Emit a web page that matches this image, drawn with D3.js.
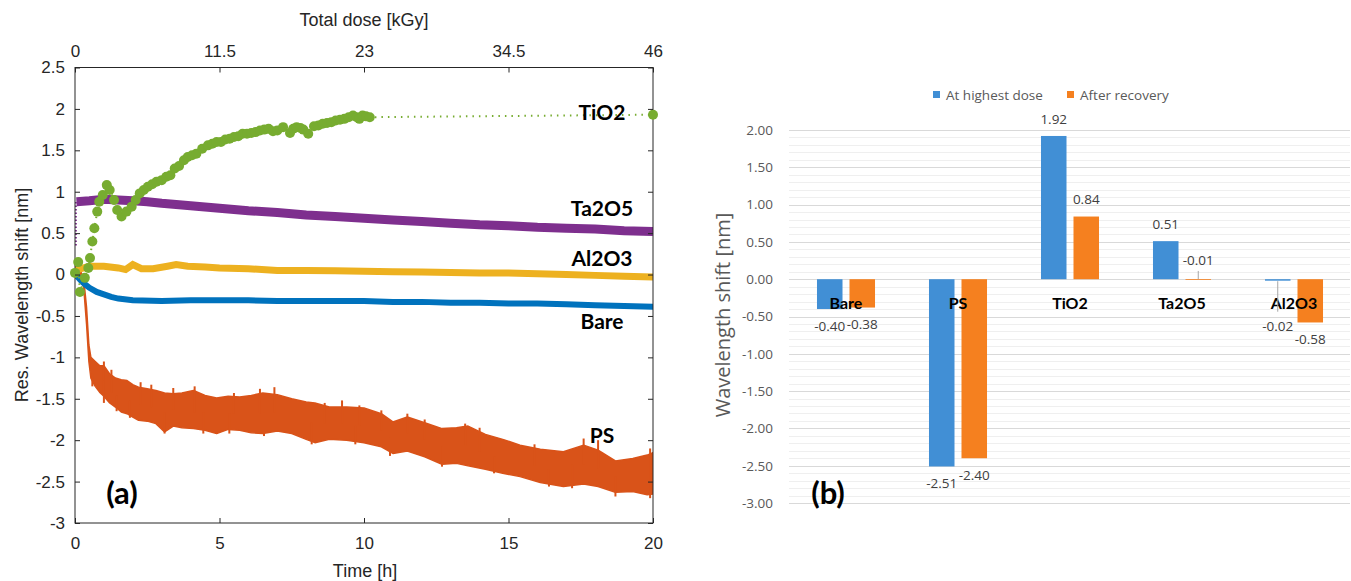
<!DOCTYPE html>
<html><head><meta charset="utf-8">
<script src="https://cdn.jsdelivr.net/npm/d3@7"></script>
<style>body{margin:0;background:#fff} svg{display:block}</style>
</head><body><svg id="c" width="1351" height="581"></svg>
<script>
// ---------- Panel (a) data ----------
const hourTicks = [0, 5, 10, 15, 20];
const doseTicks = [0, 11.5, 23, 34.5, 46];
const shiftTicks = [-3, -2.5, -2, -1.5, -1, -0.5, 0, 0.5, 1, 1.5, 2, 2.5];

const tio2T = [0,0.11,0.17,0.34,0.46,0.52,0.6,0.67,0.77,0.84,0.96,1.1,1.2,1.35,1.46,1.61,1.78,1.96,2.1,2.24,2.38,2.52,2.67,2.82,3.0,3.16,3.3,3.45,3.6,3.77,3.9,4.05,4.2,4.4,4.6,4.75,4.9,5.05,5.2,5.35,5.5,5.65,5.8,5.95,6.1,6.25,6.4,6.55,6.7,6.85,7.0,7.2,7.44,7.55,7.67,7.8,7.9,8.07,8.27,8.42,8.57,8.72,8.87,9.02,9.17,9.32,9.47,9.62,9.75,9.84,9.95,10.07,10.2,20];
const tio2V = [0.02,0.15,-0.21,-0.04,0.08,0.2,0.4,0.56,0.76,0.88,0.96,1.08,1.02,0.9,0.78,0.7,0.76,0.82,0.9,0.98,1.02,1.06,1.09,1.12,1.14,1.18,1.2,1.28,1.31,1.38,1.42,1.44,1.46,1.52,1.56,1.58,1.6,1.6,1.63,1.64,1.66,1.67,1.7,1.7,1.71,1.72,1.74,1.75,1.76,1.73,1.74,1.78,1.71,1.76,1.78,1.77,1.75,1.7,1.79,1.8,1.82,1.83,1.84,1.86,1.87,1.88,1.9,1.92,1.9,1.88,1.92,1.91,1.9,1.93];

const ta2o5T = [0.05,0.5,1,1.5,2,2.5,3,4,5,6,7,8,9,10,11,12,13,14,15,16,17,18,19,20];
const ta2o5V = [0.88,0.89,0.91,0.9,0.89,0.88,0.86,0.83,0.8,0.77,0.75,0.72,0.7,0.68,0.66,0.64,0.62,0.6,0.59,0.57,0.56,0.55,0.53,0.52];

const al2o3T = [0,0.3,0.5,1,1.5,1.75,2,2.3,2.7,3.2,3.5,3.9,4.5,5,6,7,8,9,10,11,12,13,14,15,16,17,18,19,20];
const al2o3V = [0.05,0.08,0.1,0.1,0.08,0.06,0.12,0.07,0.07,0.1,0.12,0.1,0.09,0.08,0.07,0.05,0.05,0.045,0.04,0.035,0.03,0.025,0.02,0.02,0.01,0,-0.01,-0.02,-0.03];

const bareT = [0,0.1,0.2,0.35,0.5,0.75,1,1.25,1.5,2,3,4,5,6,7,8,9,10,11,12,13,14,15,16,17,18,19,20];
const bareV = [0.02,-0.03,-0.07,-0.12,-0.16,-0.21,-0.24,-0.27,-0.29,-0.31,-0.32,-0.31,-0.31,-0.31,-0.32,-0.32,-0.32,-0.32,-0.33,-0.33,-0.34,-0.34,-0.35,-0.35,-0.36,-0.37,-0.38,-0.39];

const psT  = [0,0.15,0.3,0.4,0.48,0.55,0.7,0.85,1.0,1.2,1.4,1.6,1.8,2.0,2.2,2.5,2.8,3.1,3.4,3.7,4.1,4.5,4.9,5.3,5.7,6.1,6.5,7.0,7.5,8.0,8.3,8.8,9.4,10.0,10.6,11.0,11.5,12.1,12.7,13.2,13.6,14.2,14.8,15.4,16.1,16.9,17.6,18.1,18.7,19.3,19.8,20];
const psHi = [0.1,0.08,-0.05,-0.4,-0.85,-1.0,-1.05,-1.1,-1.1,-1.2,-1.25,-1.27,-1.28,-1.33,-1.36,-1.38,-1.4,-1.43,-1.44,-1.43,-1.4,-1.46,-1.49,-1.47,-1.48,-1.46,-1.43,-1.45,-1.5,-1.54,-1.55,-1.6,-1.6,-1.61,-1.68,-1.78,-1.72,-1.79,-1.86,-1.85,-1.83,-1.93,-1.99,-2.06,-2.11,-2.14,-2.06,-2.12,-2.25,-2.22,-2.18,-2.15];
const psLo = [-0.02,-0.05,-0.15,-0.6,-1.05,-1.25,-1.35,-1.42,-1.47,-1.55,-1.6,-1.66,-1.68,-1.72,-1.76,-1.77,-1.8,-1.9,-1.83,-1.85,-1.86,-1.88,-1.92,-1.87,-1.88,-1.91,-1.92,-1.89,-1.92,-1.99,-2.03,-1.99,-2.0,-2.03,-2.08,-2.16,-2.13,-2.2,-2.29,-2.28,-2.31,-2.35,-2.4,-2.44,-2.51,-2.56,-2.53,-2.56,-2.63,-2.62,-2.66,-2.65];
// individual noise spikes: [time, tip value]
const psSpikesUp = [[1.0,-1.05],[1.26,-1.15],[2.27,-1.3],[2.64,-1.33],[3.4,-1.37],[4.14,-1.35],[5.5,-1.43],[6.4,-1.38],[6.9,-1.36],[8.64,-1.55],[9.24,-1.52],[9.84,-1.58],[10.6,-1.64],[11.5,-1.68],[12.1,-1.75],[13.5,-1.8],[14.0,-1.85],[15.9,-2.05],[17.6,-1.98],[18.1,-2.0],[19.9,-2.1]];
const psSpikesDown = [[0.6,-1.35],[1.0,-1.55],[1.44,-1.65],[1.9,-1.73],[3.1,-1.92],[4.44,-1.92],[5.34,-1.92],[6.54,-1.95],[8.19,-2.05],[9.7,-2.05],[10.9,-2.19],[12.7,-2.32],[14.5,-2.4],[16.4,-2.56],[17.2,-2.58],[18.7,-2.68],[19.9,-2.7]];

// ---------- Panel (b) data ----------
const categories = ["Bare", "PS", "TiO2", "Ta2O5", "Al2O3"];
const seriesNames = ["At highest dose", "After recovery"];
const highestDose = [-0.40, -2.51, 1.92, 0.51, -0.02];
const afterRecovery = [-0.38, -2.40, 0.84, -0.01, -0.58];
const barTicks = [-3, -2.5, -2, -1.5, -1, -0.5, 0, 0.5, 1, 1.5, 2];

// ---------- drawing ----------
const svg = d3.select("#c");
const axisFont = "'Liberation Sans', Arial, sans-serif";
const labelFont = "Lato, 'Open Sans', sans-serif";
const xlFont = "'Open Sans', sans-serif";

// Panel (a)
const x = d3.scaleLinear().domain([0, 20]).range([75, 653]);
const xDose = d3.scaleLinear().domain([0, 46]).range([75, 653]);
const y = d3.scaleLinear().domain([-3, 2.5]).range([523, 67.5]);
const fmtA = d => String(d);

const gA = svg.append("g");
gA.append("clipPath").attr("id", "clipA").append("rect")
  .attr("x", 75).attr("y", 67.5).attr("width", 578).attr("height", 455.5);
const plot = gA.append("g").attr("clip-path", "url(#clipA)");

const zip = (t, v) => t.map((d, i) => [d, v[i]]);
const line = d3.line().x(d => x(d[0])).y(d => y(d[1]));

// PS band
const PS = "#D95319";
const psData = psT.map((t, i) => ({t, hi: psHi[i], lo: psLo[i]}));
plot.append("path").datum(psData)
  .attr("d", d3.area().x(d => x(d.t)).y0(d => y(d.lo)).y1(d => y(d.hi)))
  .attr("fill", PS).attr("stroke", PS).attr("stroke-width", 1.5).attr("stroke-linejoin", "round");
const psMid = t => y((d3.bisectLeft(psT, t) < psT.length ? (psHi[Math.min(d3.bisectLeft(psT, t), psT.length - 1)] + psLo[Math.min(d3.bisectLeft(psT, t), psT.length - 1)]) / 2 : -2));
plot.selectAll("line.spk").data(psSpikesUp.concat(psSpikesDown)).join("line").attr("class", "spk")
  .attr("x1", d => x(d[0])).attr("x2", d => x(d[0]))
  .attr("y1", d => psMid(d[0])).attr("y2", d => y(d[1]))
  .attr("stroke", PS).attr("stroke-width", 2);

// Ta2O5
plot.append("path").datum(zip(ta2o5T, ta2o5V)).attr("d", line)
  .attr("fill", "none").attr("stroke", "#7E2F8E").attr("stroke-width", 9);
plot.append("line").attr("x1", x(0.03)).attr("x2", x(0.03)).attr("y1", y(0.35)).attr("y2", y(0.88))
  .attr("stroke", "#7E2F8E").attr("stroke-width", 2).attr("stroke-dasharray", "1.5,2");
// Al2O3
plot.append("path").datum(zip(al2o3T, al2o3V)).attr("d", line)
  .attr("fill", "none").attr("stroke", "#EDB120").attr("stroke-width", 7);
// Bare
plot.append("path").datum(zip(bareT, bareV)).attr("d", line)
  .attr("fill", "none").attr("stroke", "#0072BD").attr("stroke-width", 6).attr("stroke-linecap", "round");
// TiO2
const tio2 = zip(tio2T, tio2V);
plot.append("path").datum(tio2).attr("d", line)
  .attr("fill", "none").attr("stroke", "#77AC30").attr("stroke-width", 2).attr("stroke-dasharray", "1.5,5");

// frame
gA.append("rect").attr("x", 75).attr("y", 67.5).attr("width", 578).attr("height", 455.5)
  .attr("fill", "none").attr("stroke", "#262626").attr("stroke-width", 1);

gA.selectAll("circle.ti").data(tio2).join("circle").attr("class", "ti")
  .attr("cx", d => x(d[0])).attr("cy", d => y(d[1])).attr("r", 5).attr("fill", "#77AC30");

function styleAxis(g, size) {
  g.select(".domain").remove();
  g.selectAll(".tick line").attr("stroke", "#262626");
  g.selectAll("text").attr("font-family", axisFont).attr("font-size", size).attr("fill", "#262626");
}
gA.append("g").attr("transform", "translate(0,523)")
  .call(d3.axisBottom(x).tickValues(hourTicks).tickFormat(fmtA).tickSize(-5).tickPadding(14))
  .call(g => styleAxis(g, 17));
gA.append("g").attr("transform", "translate(0,67.5)")
  .call(d3.axisTop(xDose).tickValues(doseTicks).tickFormat(fmtA).tickSize(-5).tickPadding(11))
  .call(g => styleAxis(g, 17));
gA.append("g").attr("transform", "translate(75,0)")
  .call(d3.axisLeft(y).tickValues(shiftTicks).tickFormat(fmtA).tickSize(-5).tickPadding(10))
  .call(g => styleAxis(g, 17));
gA.append("g").attr("transform", "translate(653,0)")
  .call(d3.axisRight(y).tickValues(shiftTicks).tickFormat("").tickSize(-5))
  .call(g => styleAxis(g, 17));

gA.append("text").attr("x", 364).attr("y", 26).attr("text-anchor", "middle")
  .attr("font-family", axisFont).attr("font-size", 18).attr("fill", "#262626").text("Total dose [kGy]");
gA.append("text").attr("x", 365).attr("y", 577).attr("text-anchor", "middle")
  .attr("font-family", axisFont).attr("font-size", 18).attr("fill", "#262626").text("Time [h]");
gA.append("text").attr("transform", "translate(28,295) rotate(-90)").attr("text-anchor", "middle")
  .attr("font-family", axisFont).attr("font-size", 18).attr("fill", "#262626").text("Res. Wavelength shift [nm]");

const seriesLabels = [["TiO2", 1.95], ["Ta2O5", 0.8], ["Al2O3", 0.19], ["Bare", -0.57], ["PS", -1.94]];
gA.selectAll("text.sl").data(seriesLabels).join("text").attr("class", "sl")
  .attr("x", 602).attr("y", d => y(d[1])).attr("dy", "0.35em").attr("text-anchor", "middle")
  .attr("font-family", labelFont).attr("font-weight", "bold").attr("font-size", 21).attr("fill", "#000")
  .text(d => d[0]);
gA.append("text").attr("x", 122).attr("y", 504).attr("text-anchor", "middle")
  .attr("font-family", labelFont).attr("font-weight", "bold").attr("font-size", 31).attr("fill", "#000").text("(a)");

// Panel (b)
const x0 = d3.scaleBand().domain(categories).range([790, 1350]);
const x1 = d3.scaleBand().domain(seriesNames).range([0, x0.bandwidth()]).paddingInner(0.215).paddingOuter(0.83);
const y2 = d3.scaleLinear().domain([-3, 2]).range([503, 130]);
const colors = {"At highest dose": "#418FD5", "After recovery": "#F5801F"};
const gB = svg.append("g");

// minor gridlines every 0.1
const minor = d3.range(-30, 21).map(i => i / 10);
gB.selectAll("line.mg").data(minor).join("line").attr("class", "mg")
  .attr("x1", 789).attr("x2", 1350).attr("y1", d => Math.round(y2(d)) + 0.5).attr("y2", d => Math.round(y2(d)) + 0.5)
  .attr("stroke", "#EFEFEF").attr("stroke-width", 1);
gB.selectAll("line.Mg").data(barTicks).join("line").attr("class", "Mg")
  .attr("x1", 789).attr("x2", 1350).attr("y1", d => Math.round(y2(d)) + 0.5).attr("y2", d => Math.round(y2(d)) + 0.5)
  .attr("stroke", "#D9D9D9").attr("stroke-width", 1);

gB.append("g").attr("transform", "translate(779,0)")
  .call(d3.axisLeft(y2).tickValues(barTicks).tickFormat(d => d.toFixed(2)).tickSize(0).tickPadding(6))
  .call(g => {
    g.select(".domain").remove();
    g.selectAll("text").attr("font-family", xlFont).attr("font-size", 13.5).attr("fill", "#595959");
  });

const barData = [];
categories.forEach((c, i) => {
  barData.push({c, s: seriesNames[0], v: highestDose[i]});
  barData.push({c, s: seriesNames[1], v: afterRecovery[i]});
});
gB.selectAll("rect.bar").data(barData).join("rect").attr("class", "bar")
  .attr("x", d => x0(d.c) + x1(d.s)).attr("width", x1.bandwidth())
  .attr("y", d => y2(Math.max(0, d.v))).attr("height", d => Math.max(0.8, Math.abs(y2(d.v) - y2(0))))
  .attr("fill", d => colors[d.s]);

// category labels
gB.selectAll("text.cat").data(categories).join("text").attr("class", "cat")
  .attr("x", d => x0(d) + x0.bandwidth() / 2).attr("y", 303).attr("dy", "0.35em").attr("text-anchor", "middle")
  .attr("font-family", labelFont).attr("font-weight", "bold").attr("font-size", 16).attr("fill", "#000").text(d => d);

// data labels (manually moved labels get a leader line, as in the source)
const moved = {"Ta2O5|After recovery": -37, "Al2O3|At highest dose": 29};
barData.forEach(d => {
  const cx = x0(d.c) + x1(d.s) + x1.bandwidth() / 2;
  let cy = d.v >= 0 ? y2(d.v) - 17 : y2(d.v) + 17;
  const key = d.c + "|" + d.s;
  if (moved[key]) {
    cy += moved[key];
    const ly1 = moved[key] < 0 ? cy + 11 : y2(d.v) + 0.5;
    const ly2 = moved[key] < 0 ? y2(0) : cy - 15;
    gB.append("line").attr("x1", cx).attr("x2", cx).attr("y1", ly1).attr("y2", ly2)
      .attr("stroke", "#A6A6A6").attr("stroke-width", 1);
  }
  gB.append("text").attr("x", cx).attr("y", cy).attr("dy", "0.35em").attr("text-anchor", "middle")
    .attr("font-family", xlFont).attr("font-size", 13.5).attr("fill", "#404040").text(d.v.toFixed(2));
});

// legend
const legX = [933, 1067];
seriesNames.forEach((s, i) => {
  gB.append("rect").attr("x", legX[i]).attr("y", 91).attr("width", 7).attr("height", 7).attr("fill", colors[s]);
  gB.append("text").attr("x", legX[i] + 13).attr("y", 99.5).attr("font-family", xlFont).attr("font-size", 13.5)
    .attr("fill", "#595959").text(s);
});

gB.append("text").attr("transform", "translate(723,315) rotate(-90)").attr("text-anchor", "middle").attr("dy", "0.35em")
  .attr("font-family", xlFont).attr("font-size", 20).attr("fill", "#595959").text("Wavelength shift [nm]");
gB.append("text").attr("x", 828).attr("y", 504).attr("text-anchor", "middle")
  .attr("font-family", labelFont).attr("font-weight", "bold").attr("font-size", 31).attr("fill", "#000").text("(b)");
</script></body></html>
